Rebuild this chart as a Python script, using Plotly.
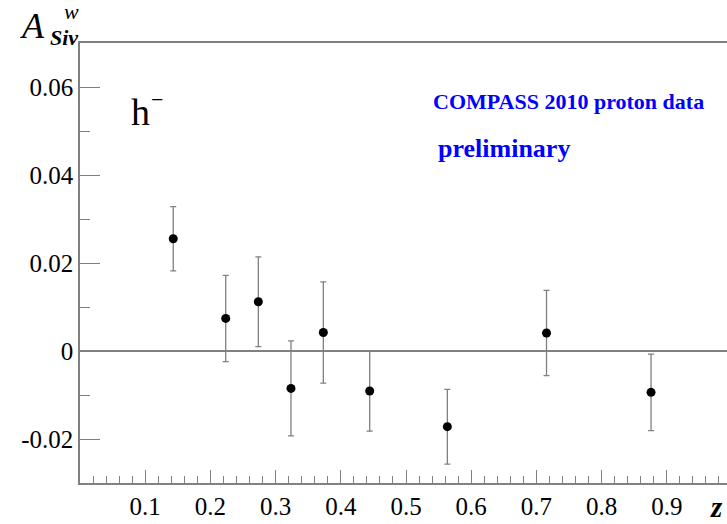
import plotly.graph_objects as go

# Data
z_vals = [0.143, 0.2235, 0.2735, 0.3236, 0.3732, 0.4443, 0.5634, 0.7155, 0.8758]
a_vals = [0.0255, 0.0074, 0.0112, -0.0085, 0.0042, -0.0091, -0.0172, 0.0041, -0.0094]
a_errs = [0.0073, 0.0098, 0.0102, 0.0108, 0.0115, 0.0091, 0.0085, 0.0097, 0.0087]

y_tickvals = [-0.02, 0, 0.02, 0.04, 0.06]
y_ticktext = ["-0.02", "0", "0.02", "0.04", "0.06"]
x_tickvals = [0.1, 0.2, 0.3, 0.4, 0.5, 0.6, 0.7, 0.8, 0.9, 1.0]
x_ticktext = ["0.1", "0.2", "0.3", "0.4", "0.5", "0.6", "0.7", "0.8", "0.9", ""]

W, H = 727, 524
L, R, T, B = 80, 0, 43, 41
PW, PH = W - L - R, H - T - B

def px(x):
    return (x - L) / PW

def py(y):
    return (H - B - y) / PH

SERIF = "Liberation Serif, Times New Roman, serif"
GRAY = "#808080"

fig = go.Figure()
fig.add_trace(go.Scatter(
    x=z_vals, y=a_vals, mode="markers",
    marker=dict(color="black", size=9),
    error_y=dict(type="data", array=a_errs, visible=True,
                 color=GRAY, thickness=1.3, width=3),
    showlegend=False,
))

fig.update_layout(
    width=W, height=H,
    margin=dict(l=L, r=R, t=T, b=B, pad=0),
    paper_bgcolor="white", plot_bgcolor="white",
    font=dict(family=SERIF, color="black", size=25),
    xaxis=dict(
        range=[0, 0.9923], showgrid=False, zeroline=False,
        showline=True, linecolor=GRAY, linewidth=1.5, mirror=True,
        ticks="inside", ticklen=13, tickwidth=1.3, tickcolor=GRAY,
        tickvals=x_tickvals, ticktext=x_ticktext,
        tickfont=dict(family=SERIF, size=25, color="black"),
        minor=dict(ticks="inside", ticklen=7, tickwidth=1.3, tickcolor=GRAY,
                   dtick=0.02, tick0=0, showgrid=False),
        automargin=False,
    ),
    yaxis=dict(
        range=[-0.03, 0.07], showgrid=False,
        zeroline=True, zerolinecolor=GRAY, zerolinewidth=1.5,
        showline=True, linecolor=GRAY, linewidth=1.5, mirror=False,
        ticks="inside", ticklen=20, tickwidth=1.3, tickcolor=GRAY,
        tickvals=y_tickvals, ticktext=y_ticktext,
        tickfont=dict(family=SERIF, size=25, color="black"),
        minor=dict(ticks="inside", ticklen=10, tickwidth=1.3, tickcolor=GRAY,
                   dtick=0.01, tick0=0, showgrid=False),
        automargin=False,
    ),
)

ann = []
def add(text, x, y, size, color="black", xanchor="center", yanchor="middle"):
    ann.append(dict(text=text, x=px(x), y=py(y), xref="paper", yref="paper",
                    showarrow=False, xanchor=xanchor, yanchor=yanchor,
                    font=dict(family=SERIF, size=size, color=color)))

add("<i>A</i>", 32, 26, 36)
add("<i>w</i>", 71, 12, 22)
add("<b><i>Siv</i></b>", 64, 38, 22)
add("<b><i>z</i></b>", 716, 507, 29)
add("h", 140, 112, 38)
add("−", 157, 99, 22)
add("<b>COMPASS 2010 proton data</b>", 568, 101, 22, color="#0000ff")
add("<b>preliminary</b>", 504, 148, 26, color="#0000ff")
fig.update_layout(annotations=ann)

fig.write_html("out.html",
               config={"displayModeBar": False},
               post_script="document.body.style.margin='0';document.body.style.overflow='hidden';")
